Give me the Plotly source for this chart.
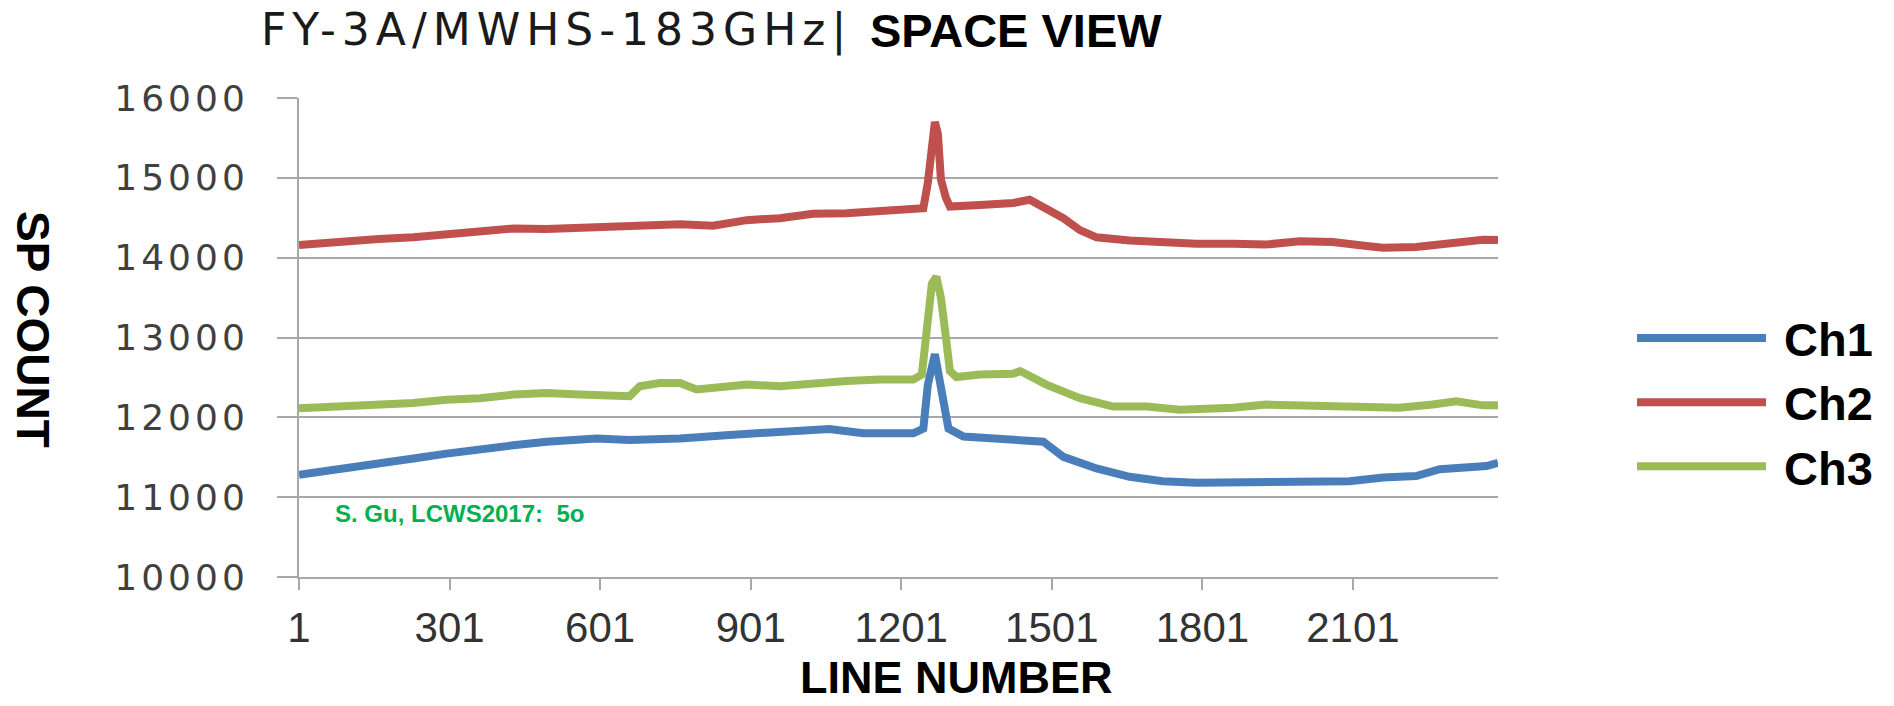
import plotly.graph_objects as go

# ---- data ----
ch1_line = [1, 75, 160, 229, 295, 362, 428, 494, 594, 660, 760, 859, 959, 1058, 1125, 1225, 1245, 1254,
            1268, 1276, 1285, 1295, 1325, 1391, 1457, 1484, 1524, 1590, 1656, 1722, 1789, 1862, 1928,
            1995, 2094, 2161, 2227, 2274, 2327, 2367, 2390]
ch1_val = [11280, 11340, 11420, 11485, 11545, 11610, 11650, 11695, 11735, 11715, 11735, 11780, 11820,
           11855, 11800, 11800, 11860, 12410, 12790, 12500, 12160, 11860, 11760, 11730, 11715, 11695,
           11505, 11360, 11255, 11200, 11180, 11180, 11190, 11200, 11200, 11245, 11265, 11350, 11370,
           11390, 11430]

ch2_line = [1, 50, 96, 160, 229, 300, 362, 428, 494, 560, 627, 700, 760, 826, 893, 959, 1025, 1092, 1158,
            1225, 1245, 1254, 1262, 1268, 1274, 1280, 1290, 1298, 1358, 1424, 1457, 1490, 1524, 1557,
            1590, 1656, 1722, 1789, 1862, 1928, 1995, 2061, 2128, 2161, 2227, 2294, 2360, 2390]
ch2_val = [14160, 14190, 14220, 14235, 14255, 14290, 14325, 14365, 14360, 14370, 14390, 14400, 14420,
           14400, 14470, 14495, 14550, 14555, 14580, 14600, 14620, 14940, 15450, 15700, 15550, 14980,
           14750, 14640, 14660, 14685, 14725, 14620, 14495, 14345, 14255, 14215, 14190, 14175, 14175,
           14165, 14205, 14195, 14145, 14125, 14135, 14185, 14225, 14220]

ch3_line = [1, 96, 160, 229, 295, 362, 428, 494, 560, 627, 660, 680, 720, 760, 793, 859, 893, 959, 1025,
            1092, 1158, 1225, 1242, 1252, 1262, 1271, 1280, 1290, 1298, 1311, 1358, 1424, 1438, 1490,
            1557, 1623, 1690, 1756, 1796, 1862, 1928, 1995, 2061, 2128, 2194, 2260, 2307, 2360, 2390]
ch3_val = [12115, 12135, 12150, 12180, 12220, 12240, 12285, 12305, 12285, 12265, 12265, 12390, 12430,
           12430, 12350, 12390, 12410, 12390, 12430, 12455, 12475, 12475, 12535, 13170, 13675, 13760,
           13500, 13000, 12580, 12505, 12535, 12545, 12580, 12410, 12240, 12135, 12135, 12095, 12100,
           12120, 12160, 12150, 12160, 12140, 12120, 12160, 12200, 12150, 12150]

x_ticks = [1, 301, 601, 901, 1201, 1501, 1801, 2101]
y_ticks = [10000, 11000, 12000, 13000, 14000, 15000, 16000]

series = [
    ("Ch3", ch3_line, ch3_val, "#9bbb59", 3),
    ("Ch2", ch2_line, ch2_val, "#c0504d", 2),
    ("Ch1", ch1_line, ch1_val, "#4a7ebb", 1),
]

fig = go.Figure()
for name, xs, ys, color, rank in series:
    fig.add_trace(go.Scatter(x=xs, y=ys, mode="lines", name="\u00a0<b>" + name + "</b>",
                             legendrank=rank, line=dict(color=color, width=8)))

W, H = 1894, 706
L, R, T, B = 299, 396, 98, 129
pw, ph = W - L - R, H - T - B


def px(X):
    return (X - L) / pw


def py(Y):
    return 1 - (Y - T) / ph


grid = "#a8a8a8"
fig.update_layout(
    width=W, height=H,
    margin=dict(l=L, r=R, t=T, b=B, autoexpand=False),
    paper_bgcolor="white", plot_bgcolor="white",
    showlegend=True,
    legend=dict(x=px(1632), y=py(301), xanchor="left", yanchor="top",
                font=dict(family="Liberation Sans", size=47, color="black"),
                itemwidth=129, bgcolor="rgba(0,0,0,0)", tracegroupgap=0),
    xaxis=dict(range=[1, 2390], tickmode="array", tickvals=x_ticks,
               ticktext=[str(v) for v in x_ticks],
               showgrid=False, zeroline=False, showline=True, linecolor=grid, linewidth=2,
               ticks="outside", ticklen=11, tickwidth=2, tickcolor=grid,
               ticklabelstandoff=2,
               tickfont=dict(family="Liberation Sans", size=42, color="#333333")),
    yaxis=dict(range=[10000, 16000], tickmode="array", tickvals=y_ticks,
               ticktext=['<span style="letter-spacing:4px">%d</span>' % v for v in y_ticks],
               showgrid=True, gridcolor=grid, gridwidth=2, zeroline=False,
               showline=True, linecolor=grid, linewidth=2,
               ticks="outside", ticklen=20, tickwidth=2, tickcolor=grid,
               ticklabelstandoff=21,
               tickfont=dict(family="DejaVu Sans", size=36, color="#404040")),
    annotations=[
        dict(text='<span style="letter-spacing:6px">FY-3A/MWHS-183GHz|</span>',
             xref="paper", yref="paper", x=px(854), y=py(30), xanchor="right", yanchor="middle",
             showarrow=False, font=dict(family="DejaVu Sans", size=44, color="#1a1a1a")),
        dict(text="<b>SPACE VIEW</b>", xref="paper", yref="paper", x=px(868), y=py(30),
             xanchor="left", yanchor="middle", showarrow=False,
             font=dict(family="Liberation Sans", size=47, color="black")),
        dict(text="<b>SP COUNT</b>", xref="paper", yref="paper", x=px(33), y=py(329),
             xanchor="center", yanchor="middle", textangle=90, showarrow=False,
             font=dict(family="Liberation Sans", size=46, color="black")),
        dict(text="<b>LINE NUMBER</b>", xref="paper", yref="paper", x=px(956), y=py(677),
             xanchor="center", yanchor="middle", showarrow=False,
             font=dict(family="Liberation Sans", size=45, color="black")),
        dict(text="<b>S. Gu, LCWS2017:\u00a0 5o</b>", xref="x", yref="y", x=69, y=10800,
             xanchor="left", yanchor="middle", showarrow=False,
             font=dict(family="Liberation Sans", size=24, color="#00b050")),
    ],
)

fig.write_html("out.html")
